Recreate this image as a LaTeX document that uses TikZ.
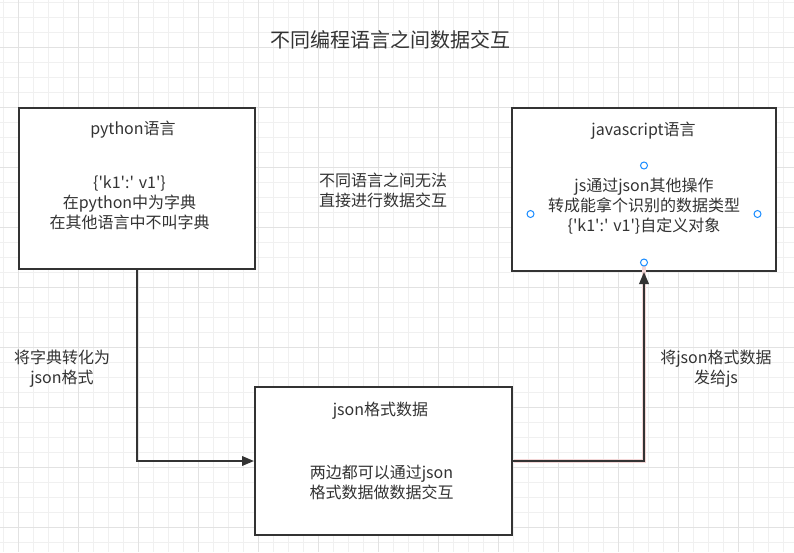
\documentclass[tikz,border=0pt]{standalone}
\usepackage{fontspec}
\setmainfont{Noto Sans CJK SC}[Ligatures=TeXOff]
\usetikzlibrary{arrows.meta}
\definecolor{ink}{HTML}{333333}
\definecolor{gridminor}{HTML}{F0F0F0}
\definecolor{gridmajor}{HTML}{E2E2E2}
\definecolor{handle}{HTML}{1A8CFF}
\definecolor{edgeglow}{HTML}{F3D6D6}
\tikzset{
  box/.style={draw=ink, line width=2pt, fill=white, rectangle, inner sep=0pt},
  txt/.style={text=ink, font=\fontsize{16}{20}\selectfont, align=center, inner sep=0pt},
  ttl/.style={text=ink, font=\fontsize{20}{24}\selectfont, inner sep=0pt},
  arr/.style={draw=ink, line width=2pt, -{Triangle[length=12pt,width=9.5pt]}},
  hdl/.style={draw=handle, fill=white, line width=1pt, circle, minimum size=7pt, inner sep=0pt}
}
\begin{document}
\begin{tikzpicture}[x=1pt,y=-1pt]
\useasboundingbox (0,0) rectangle (794,552);
\fill[white] (0,0) rectangle (794,552);
% grid
\foreach \i in {0,...,53} {
  \draw[gridminor, line width=1pt] ({3+15*\i},0) -- ({3+15*\i},552);
}
\foreach \j in {0,...,37} {
  \draw[gridminor, line width=1pt] (0,{2.5+15*\j}) -- (794,{2.5+15*\j});
}
\foreach \i in {0,...,13} {
  \draw[gridmajor, line width=1pt] ({18+60*\i},0) -- ({18+60*\i},552);
}
\foreach \j in {0,...,9} {
  \draw[gridmajor, line width=1pt] (0,{47.5+60*\j}) -- (794,{47.5+60*\j});
}

% title
\node[ttl] (title) at (390,40) {不同编程语言之间数据交互};

% boxes
\node[box, minimum width=236pt, minimum height=161pt] (py) at (137,188.5) {};
\node[box, minimum width=264pt, minimum height=163pt] (js) at (644,189.5) {};
\node[box, minimum width=257pt, minimum height=148pt] (json) at (383.5,461) {};

% box texts
\node[txt] (pyt) at (133,130) {python语言};
\node[txt] (pyb) at (129.5,203) {\{'k1':' v1'\}\\在python中为字典\\在其他语言中不叫字典};
\node[txt] (jst) at (643.5,130.5) {javascript语言};
\node[txt] (jsb) at (644,206.5) {js通过json其他操作\\转成能拿个识别的数据类型\\\{'k1':' v1'\}自定义对象};
\node[txt] (jsont) at (380.5,410.5) {json格式数据};
\node[txt] (jsonb) at (381.5,482) {两边都可以通过json\\格式数据做数据交互};

% free texts
\node[txt] (mid) at (383,190.5) {不同语言之间无法\\直接进行数据交互};
\node[txt] (lbl1) at (62,369) {将字典转化为\\json格式};
\node[txt] (lbl2) at (716,369) {将json格式数据\\发给js};

% connectors
\draw[arr] (py.south) |- (json.west);
\draw[edgeglow, line width=4pt] ([xshift=1pt]json.east) -| ([yshift=12pt]js.south);
\draw[arr] (json.east) -| (js.south);

% handles
\node[hdl] (h1) at (644,165.5) {};
\node[hdl] (h2) at (530.5,214) {};
\node[hdl] (h3) at (757.5,214) {};
\node[hdl] (h4) at (644,262.5) {};
\end{tikzpicture}
\end{document}
